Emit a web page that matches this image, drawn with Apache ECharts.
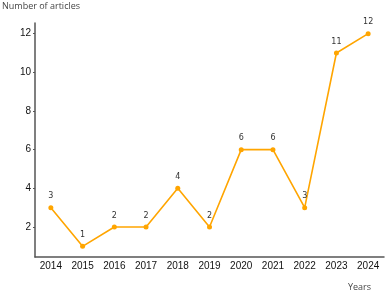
<!DOCTYPE html>
<html><head><meta charset="utf-8">
<script src="https://cdn.jsdelivr.net/npm/echarts@6/dist/echarts.min.js"></script>
<style>html,body{margin:0;padding:0;background:#fff}#c{width:386px;height:294px}</style>
</head><body><div id="c"></div>
<script>
const years = ['2014','2015','2016','2017','2018','2019','2020','2021','2022','2023','2024'];
const articles = [3,1,2,2,4,2,6,6,3,11,12];
const yTicks = [2,4,6,8,10,12];
const chart = echarts.init(document.getElementById('c'));
chart.setOption({
  animation:false,
  backgroundColor:'#fff',
  grid:{left:35,right:2,top:23,bottom:37,containLabel:false},
  graphic:[
    {type:'text',left:2,top:2,style:{text:'Number of articles',font:'9px "Open Sans"',fill:'#444'}},
    {type:'text',left:348,top:283,style:{text:'Years',font:'9px "Open Sans"',fill:'#444'}}
  ],
  xAxis:{type:'category',data:years,boundaryGap:true,
    axisLine:{lineStyle:{color:'#555',width:1.5}},
    axisTick:{alignWithLabel:true,length:3,lineStyle:{color:'#555'}},
    axisLabel:{interval:0,hideOverlap:false,color:'#111',fontSize:10,fontFamily:'Liberation Sans',margin:4},
    splitLine:{show:false}},
  yAxis:{type:'value',min:0.45,max:12.55,
    axisLine:{show:true,lineStyle:{color:'#555',width:1.5}},
    axisTick:{show:true,length:2,customValues:yTicks,lineStyle:{color:'#555'}},
    axisLabel:{customValues:yTicks,color:'#111',fontSize:10,fontFamily:'Liberation Sans',margin:4},
    splitLine:{show:false}},
  series:[{type:'line',data:articles,color:'#FFA500',
    lineStyle:{width:1.6,color:'#FFA500'},
    symbol:'circle',symbolSize:5,itemStyle:{color:'#FFA500'},
    label:{show:true,position:'top',distance:5,fontSize:8,color:'#333',fontFamily:'DejaVu Sans'}}]
});
</script></body></html>
